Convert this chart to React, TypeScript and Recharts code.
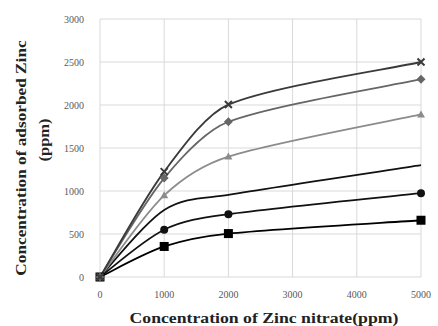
import { LineChart, Line, XAxis, YAxis, CartesianGrid } from 'recharts';

const nitrate = [0, 1000, 2000, 5000];
const crossSeries = [0, 1225, 2005, 2500];
const diamondSeries = [0, 1150, 1805, 2300];
const triangleSeries = [0, 950, 1400, 1890];
const plainSeries = [0, 780, 955, 1300];
const circleSeries = [0, 550, 730, 975];
const squareSeries = [0, 355, 505, 660];

const xTicks = [0, 1000, 2000, 3000, 4000, 5000];
const yTicks = [0, 500, 1000, 1500, 2000, 2500, 3000];

const data = nitrate.map((x, i) => ({
    x,
    cross: crossSeries[i],
    diamond: diamondSeries[i],
    triangle: triangleSeries[i],
    plain: plainSeries[i],
    circle: circleSeries[i],
    square: squareSeries[i],
}));

// Excel-like smoothing: catmull-rom handles, clamped so they stay inside the segment
const smooth = (context: any) => {
    let pts: [number, number][] = [];
    return {
        areaStart() {},
        areaEnd() {},
        lineStart() {
            pts = [];
        },
        point(x: number, y: number) {
            pts.push([+x, +y]);
        },
        lineEnd() {
            const n = pts.length;
            if (!n) return;
            context.moveTo(pts[0][0], pts[0][1]);
            const clamp = (v: [number, number], maxX: number): [number, number] =>
                v[0] > maxX ? [maxX, (v[1] * maxX) / v[0]] : v;
            for (let i = 0; i < n - 1; i++) {
                const p0 = pts[i - 1] ?? pts[i];
                const p1 = pts[i];
                const p2 = pts[i + 1];
                const p3 = pts[i + 2] ?? pts[i + 1];
                const lim = (p2[0] - p1[0]) / 3;
                const a = clamp([(p2[0] - p0[0]) / 6, (p2[1] - p0[1]) / 6], lim);
                const b = clamp([(p3[0] - p1[0]) / 6, (p3[1] - p1[1]) / 6], lim);
                context.bezierCurveTo(p1[0] + a[0], p1[1] + a[1], p2[0] - b[0], p2[1] - b[1], p2[0], p2[1]);
            }
        },
    };
};

type DotProps = { cx?: number; cy?: number; index?: number };

const makeDot = (kind: string, color: string) => (p: DotProps) => {
    const { cx = 0, cy = 0, index } = p;
    const k = `${kind}-${index}`;
    if (kind === 'cross')
        return (
            <path key={k} d={`M${cx - 3.5},${cy - 3.5}L${cx + 3.5},${cy + 3.5}M${cx - 3.5},${cy + 3.5}L${cx + 3.5},${cy - 3.5}`} stroke={color} strokeWidth={2} />
        );
    if (kind === 'diamond')
        return <path key={k} d={`M${cx},${cy - 4.5}L${cx + 4.5},${cy}L${cx},${cy + 4.5}L${cx - 4.5},${cy}Z`} fill={color} />;
    if (kind === 'triangle')
        return <path key={k} d={`M${cx},${cy - 4}L${cx + 4},${cy + 3}L${cx - 4},${cy + 3}Z`} fill={color} />;
    if (kind === 'circle') return <circle key={k} cx={cx} cy={cy} r={4} fill={color} />;
    return <rect key={k} x={cx - 4.5} y={cy - 4.5} width={9} height={9} fill={color} />;
};

const tick = { fill: '#595959', fontSize: 10, fontFamily: 'Liberation Serif' };

const labelStyle = {
    position: 'absolute' as const,
    whiteSpace: 'nowrap' as const,
    fontFamily: 'Liberation Serif',
    fontWeight: 'bold' as const,
    fontSize: 15,
    color: '#222',
    lineHeight: '18px',
};

export default function App() {
    return (
        <div style={{ position: 'absolute', left: 0, top: 0, width: 438, height: 326, background: '#fff' }}>
            <LineChart width={438} height={326} data={data} margin={{ top: 19, right: 17, bottom: 19, left: 50 }}>
                <CartesianGrid stroke="#d9d9d9" />
                <XAxis
                    dataKey="x"
                    type="number"
                    domain={[0, 5000]}
                    ticks={xTicks}
                    axisLine={false}
                    tickLine={false}
                    tick={tick}
                    tickMargin={8}
                    height={30}
                />
                <YAxis
                    type="number"
                    domain={[0, 3000]}
                    ticks={yTicks}
                    axisLine={false}
                    tickLine={false}
                    tick={tick}
                    tickMargin={10}
                    width={50}
                />
                <Line type={smooth as any} dataKey="square" stroke="#000" strokeWidth={1.8} dot={makeDot('square', '#000')} isAnimationActive={false} />
                <Line type={smooth as any} dataKey="circle" stroke="#111" strokeWidth={1.8} dot={makeDot('circle', '#111')} isAnimationActive={false} />
                <Line type={smooth as any} dataKey="plain" stroke="#111" strokeWidth={1.8} dot={false} isAnimationActive={false} />
                <Line type={smooth as any} dataKey="triangle" stroke="#8c8c8c" strokeWidth={1.8} dot={makeDot('triangle', '#8c8c8c')} isAnimationActive={false} />
                <Line type={smooth as any} dataKey="diamond" stroke="#666" strokeWidth={1.8} dot={makeDot('diamond', '#666')} isAnimationActive={false} />
                <Line type={smooth as any} dataKey="cross" stroke="#3a3a3a" strokeWidth={1.8} dot={makeDot('cross', '#3a3a3a')} isAnimationActive={false} />
            </LineChart>
            <div style={{ ...labelStyle, left: 264, top: 318, transform: 'translate(-50%, -50%) scaleX(1.18)' }}>
                Concentration of Zinc nitrate(ppm)
            </div>
            <div style={{ ...labelStyle, left: 21, top: 158, transform: 'translate(-50%, -50%) rotate(-90deg) scaleX(1.15)' }}>
                Concentration of adsorbed Zinc
            </div>
            <div style={{ ...labelStyle, left: 44, top: 140, transform: 'translate(-50%, -50%) rotate(-90deg) scaleX(1.1)' }}>
                (ppm)
            </div>
        </div>
    );
}
